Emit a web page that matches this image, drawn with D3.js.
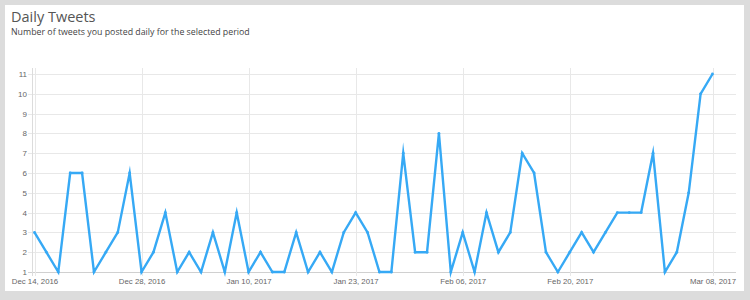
<!DOCTYPE html>
<html>
<head>
<meta charset="utf-8">
<script src="https://cdn.jsdelivr.net/npm/d3@7/dist/d3.min.js"></script>
<style>
  html, body { margin: 0; padding: 0; background: #dcdcdc; }
  svg { display: block; }
</style>
</head>
<body>
<svg id="chart" width="750" height="300"></svg>
<script>
const title = "Daily Tweets";
const subtitle = "Number of tweets you posted daily for the selected period";

const dates = [
  "Dec 14, 2016","Dec 15, 2016","Dec 16, 2016","Dec 18, 2016","Dec 19, 2016","Dec 21, 2016","Dec 22, 2016","Dec 24, 2016","Dec 26, 2016",
  "Dec 28, 2016","Dec 29, 2016","Dec 30, 2016","Jan 01, 2017","Jan 02, 2017","Jan 04, 2017","Jan 05, 2017","Jan 07, 2017","Jan 08, 2017",
  "Jan 10, 2017","Jan 11, 2017","Jan 12, 2017","Jan 14, 2017","Jan 15, 2017","Jan 17, 2017","Jan 18, 2017","Jan 20, 2017","Jan 21, 2017",
  "Jan 23, 2017","Jan 24, 2017","Jan 25, 2017","Jan 27, 2017","Jan 28, 2017","Jan 30, 2017","Jan 31, 2017","Feb 02, 2017","Feb 04, 2017",
  "Feb 06, 2017","Feb 07, 2017","Feb 08, 2017","Feb 10, 2017","Feb 11, 2017","Feb 13, 2017","Feb 14, 2017","Feb 16, 2017","Feb 18, 2017",
  "Feb 20, 2017","Feb 21, 2017","Feb 22, 2017","Feb 23, 2017","Feb 24, 2017","Feb 26, 2017","Feb 27, 2017","Feb 28, 2017","Mar 01, 2017",
  "Mar 03, 2017","Mar 05, 2017","Mar 06, 2017","Mar 08, 2017"
];

const tweets = [
  3,2,1,6,6,1,2,3,6,
  1,2,4,1,2,1,3,1,4,
  1,2,1,1,3,1,2,1,3,
  4,3,1,1,7,2,2,8,1,
  3,1,4,2,3,7,6,2,1,
  2,3,2,3,4,4,4,7,1,
  2,5,10,11
];

const xTickLabels = ["Dec 14, 2016","Dec 28, 2016","Jan 10, 2017","Jan 23, 2017","Feb 06, 2017","Feb 20, 2017","Mar 08, 2017"];
const yTicks = [1,2,3,4,5,6,7,8,9,10,11];

const svg = d3.select("#chart");

// white panel
svg.append("rect").attr("x", 5).attr("y", 5).attr("width", 739).attr("height", 286).attr("fill", "#fff");

svg.append("text").attr("x", 11).attr("y", 21.5)
  .attr("font-family", "'Open Sans', sans-serif").attr("font-size", 14.5).attr("fill", "#555")
  .text(title);
svg.append("text").attr("x", 11).attr("y", 35)
  .attr("font-family", "'Open Sans', sans-serif").attr("font-size", 8.8).attr("fill", "#444")
  .text(subtitle);

const x = d3.scalePoint().domain(dates).range([34.5, 712.5]);
const y = d3.scaleLinear().domain([1, 11]).range([272, 74]);

const plotRight = 736;
const plotLeft = 32;

// horizontal grid
const gGrid = svg.append("g");
gGrid.selectAll("line.h").data(yTicks).enter().append("line")
  .attr("x1", 28).attr("x2", plotRight)
  .attr("y1", d => Math.round(y(d)) + 0.5).attr("y2", d => Math.round(y(d)) + 0.5)
  .attr("stroke", d => d === 1 ? "#d0d0d0" : "#e8e8e8").attr("stroke-width", 1);

// vertical grid at tick labels
gGrid.selectAll("line.v").data(xTickLabels).enter().append("line")
  .attr("x1", d => Math.round(x(d)) + 0.5).attr("x2", d => Math.round(x(d)) + 0.5)
  .attr("y1", 68).attr("y2", 276)
  .attr("stroke", "#e8e8e8").attr("stroke-width", 1);

// y axis line
svg.append("line").attr("x1", plotLeft + 0.5).attr("x2", plotLeft + 0.5).attr("y1", 68).attr("y2", 276)
  .attr("stroke", "#dcdcdc");

// y axis labels via d3 axis
const yAxis = d3.axisLeft(y).tickValues(yTicks).tickSize(0).tickPadding(0).tickFormat(d3.format("d"));
const gy = svg.append("g").attr("transform", "translate(27,0)").call(yAxis);
gy.select(".domain").remove();
gy.selectAll("text").attr("font-family", "'Liberation Sans', Arial, sans-serif").attr("font-size", 8).attr("fill", "#666");

// x axis labels
const xAxis = d3.axisBottom(x).tickValues(xTickLabels).tickSize(0).tickPadding(0);
const gx = svg.append("g").attr("transform", "translate(0,278.5)").call(xAxis);
gx.select(".domain").remove();
gx.selectAll("text").attr("font-family", "'Liberation Sans', Arial, sans-serif").attr("font-size", 7.8).attr("fill", "#666");

// line
const line = d3.line().x((d, i) => x(dates[i])).y(d => y(d));
svg.append("path").datum(tweets)
  .attr("d", line).attr("fill", "none")
  .attr("stroke", "#36a9f5").attr("stroke-width", 2.4)
  .attr("stroke-linejoin", "miter").attr("stroke-miterlimit", 10);

svg.append("g").selectAll("circle").data(tweets).enter().append("circle")
  .attr("cx", (d, i) => x(dates[i])).attr("cy", d => y(d)).attr("r", 1.4)
  .attr("fill", "#36a9f5");
</script>
</body>
</html>
